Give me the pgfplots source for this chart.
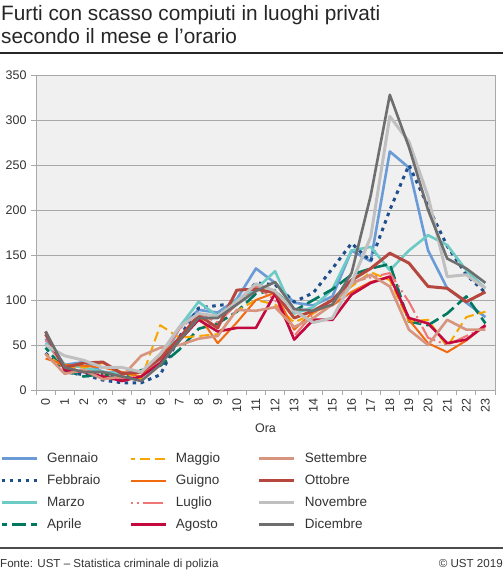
\documentclass[border=0pt]{standalone}
\usepackage{pgfplots}
\pgfplotsset{compat=1.18}
\usepackage{fontspec}
\setmainfont{Liberation Sans}
\definecolor{cGen}{HTML}{6B9BD6}
\definecolor{cFeb}{HTML}{1F4E8C}
\definecolor{cMar}{HTML}{6CCBC4}
\definecolor{cApr}{HTML}{00775F}
\definecolor{cMag}{HTML}{F7A600}
\definecolor{cGiu}{HTML}{F26A0F}
\definecolor{cLug}{HTML}{F07575}
\definecolor{cAgo}{HTML}{C4093F}
\definecolor{cSet}{HTML}{D7957F}
\definecolor{cOtt}{HTML}{B5473E}
\definecolor{cNov}{HTML}{C0C0C0}
\definecolor{cDic}{HTML}{6E6E6E}
\definecolor{bgc}{HTML}{F0F0F0}
\definecolor{gridc}{HTML}{A8A8A8}
\pgfplotstableread{
h Gen Feb Mar Apr Mag Giu Lug Ago Set Ott Nov Dic
0 57 41 52 47 40 35 55 65 40 62 50 65
1 28 20 28 22 25 28 25 22 18 25 38 25
2 31 17 25 15 25 27 22 20 22 30 33 20
3 20 11 20 18 30 25 18 15 12 31 25 20
4 19 8 18 12 20 20 13 10 15 18 25 15
5 21 8 20 22 12 15 15 15 38 20 20 10
6 28 17 30 27 72 40 35 30 47 35 40 28
7 69 59 70 45 58 55 68 55 50 58 70 55
8 89 91 98 68 60 83 85 78 57 83 85 80
9 86 94 82 74 62 52 75 65 60 69 82 80
10 101 96 100 87 88 75 95 69 89 111 98 95
11 135 119 112 107 100 100 115 69 88 112 118 110
12 119 117 132 111 95 108 100 107 92 108 110 120
13 97 98 85 88 75 67 60 56 70 80 88 90
14 94 108 92 100 85 87 85 78 80 88 75 88
15 104 135 112 112 100 94 100 78 95 100 80 95
16 155 163 155 128 115 109 120 106 118 122 119 130
17 143 143 159 135 131 120 125 119 128 135 170 216
18 265 200 133 140 122 126 130 126 115 152 304 328
19 247 250 155 76 76 78 98 80 67 141 276 270
20 155 204 172 72 78 52 58 74 50 115 215 200
21 113 160 161 85 48 42 50 52 78 113 126 146
22 97 128 133 104 81 55 60 56 67 98 128 135
23 81 108 113 74 87 72 70 72 67 109 113 119
}\datatable
\begin{document}
\begin{tikzpicture}[x=1pt,y=1pt]
\useasboundingbox (0,0) rectangle (503,572);
\node[anchor=north west, align=left, inner sep=0pt, font=\fontsize{20.8}{23}\selectfont, text=black!85] at (1,567) {Furti con scasso compiuti in luoghi privati\\secondo il mese e l’orario};
\draw[line width=1.2pt, black!85] (0,519) -- (503,519);
\begin{axis}[
  at={(36pt,182pt)}, anchor=south west,
  width=459pt, height=315pt, scale only axis,
  xmin=-0.5, xmax=23.5, ymin=0, ymax=350,
  axis background/.style={fill=bgc},
  axis line style={draw=gridc, line width=0.8pt},
  xtick={0,...,23},
  minor xtick={-0.5,0.5,...,23.5},
  ytick={0,50,...,350},
  xtick style={draw=none},
  minor x tick style={draw=gridc, line width=0.8pt},
  y tick style={draw=gridc, line width=0.8pt},
  minor tick length=5pt, major tick length=5pt,
  tick align=outside, tick pos=left,
  ymajorgrids, grid style={draw=gridc, line width=0.9pt},
  xticklabel style={rotate=90, anchor=east, font=\fontsize{12.5}{14}\selectfont, text=black!80},
  yticklabel style={font=\fontsize{12.5}{14}\selectfont, text=black!80, xshift=-1pt},
  /pgf/number format/assume math mode=true,
  xlabel={Ora}, xlabel style={font=\fontsize{12.5}{14}\selectfont, text=black!80, yshift=-4pt},
  legend style={at={(-0.0784,-0.197)}, anchor=north west, draw=none, fill=none, inner sep=0pt,
    font=\fontsize{13.5}{15}\selectfont, text=black!80,
    nodes={inner sep=0pt, text height=10pt, text depth=3pt, text width=73pt, align=left},
    row sep=9pt,
    /tikz/every odd column/.append style={column sep=9pt},
    /tikz/every even column/.append style={column sep=9pt}},
  legend columns=4, transpose legend,
  legend cell align=left,
  legend image code/.code={\draw[#1] (0pt,0pt) -- (35pt,0pt);},
  every axis plot/.append style={line width=2.6pt, line join=round},
]
\addplot[cGen] table[x=h,y=Gen]{\datatable};
\addlegendentry{Gennaio}
\addplot[cFeb, line width=3pt, dash pattern=on 3.5pt off 4.5pt] table[x=h,y=Feb]{\datatable};
\addlegendentry{Febbraio}
\addplot[cMar] table[x=h,y=Mar]{\datatable};
\addlegendentry{Marzo}
\addplot[cApr, dash pattern=on 14pt off 5pt, dash phase=9pt] table[x=h,y=Apr]{\datatable};
\addlegendentry{Aprile}
\addplot[cMag, line width=2pt, dash pattern=on 10pt off 5pt, dash phase=6pt] table[x=h,y=Mag]{\datatable};
\addlegendentry{Maggio}
\addplot[cGiu, line width=2pt] table[x=h,y=Giu]{\datatable};
\addlegendentry{Guigno}
\addplot[cLug, line width=2pt, dash pattern=on 2pt off 4pt on 2pt off 4pt on 20pt off 4pt] table[x=h,y=Lug]{\datatable};
\addlegendentry{Luglio}
\addplot[cAgo] table[x=h,y=Ago]{\datatable};
\addlegendentry{Agosto}
\addplot[cSet] table[x=h,y=Set]{\datatable};
\addlegendentry{Settembre}
\addplot[cOtt, line width=3pt] table[x=h,y=Ott]{\datatable};
\addlegendentry{Ottobre}
\addplot[cNov, line width=3pt] table[x=h,y=Nov]{\datatable};
\addlegendentry{Novembre}
\addplot[cDic] table[x=h,y=Dic]{\datatable};
\addlegendentry{Dicembre}
\end{axis}
\draw[line width=1.2pt, black!70] (0,24) -- (503,24);
\node[anchor=base west, inner sep=0pt, font=\fontsize{11.6}{13}\selectfont, text=black!80] at (0,5) {Fonte: UST – Statistica criminale di polizia};
\node[anchor=base east, inner sep=0pt, font=\fontsize{11.6}{13}\selectfont, text=black!80] at (503,5) {© UST 2019};
\end{tikzpicture}
\end{document}
